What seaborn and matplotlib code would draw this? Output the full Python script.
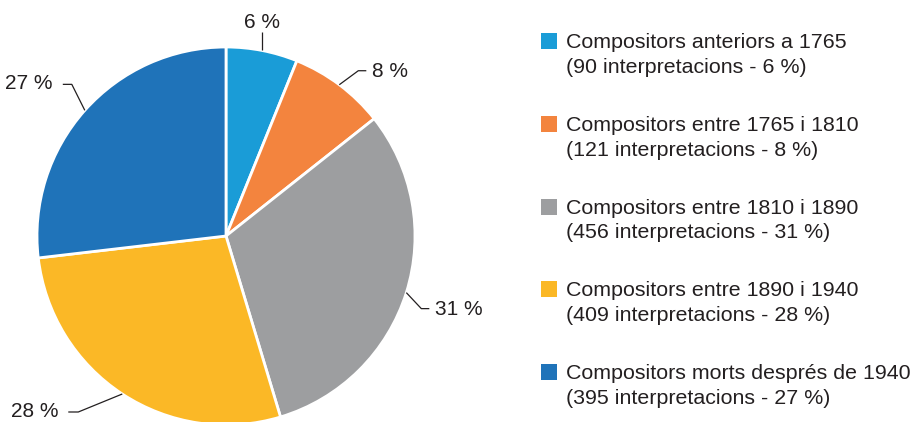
import numpy as np
import matplotlib
matplotlib.use("Agg")
import matplotlib.pyplot as plt
import seaborn as sns
from matplotlib.patches import Rectangle

categories = [
    "Compositors anteriors a 1765",
    "Compositors entre 1765 i 1810",
    "Compositors entre 1810 i 1890",
    "Compositors entre 1890 i 1940",
    "Compositors morts després de 1940",
]
interpretacions = [90, 121, 456, 409, 395]
percents = [6, 8, 31, 28, 27]
colors = ["#1a9cd7", "#f3843e", "#9d9ea0", "#fbb826", "#1f73b9"]

sns.set_theme(style="white")
plt.rcParams['font.family'] = ['Liberation Sans', 'DejaVu Sans']
TXT = "#231f20"
FS_LEG = 15.4
FS_PCT = 15

W, H = 918, 422
fig = plt.figure(figsize=(W / 100, H / 100), dpi=100)
ax = fig.add_axes([0, 0, 1, 1])

cx, cy, R = 226, H - 236, 189
wedges, _ = ax.pie(interpretacions, colors=colors, startangle=90, counterclock=False,
                   center=(cx, cy), radius=R,
                   wedgeprops=dict(edgecolor="white", linewidth=2), frame=False)
ax.set_xlim(0, W)
ax.set_ylim(0, H)
ax.set_aspect("equal")
ax.axis("off")

# leader-line styling per label: (elbow dx, elbow dy, horizontal length, text mode)
leaders = [
    (0, 18, 0, "top"),
    (19, 14, 8, "right"),
    (15, -16, 8, "right"),
    (-44, -18, -10, "left"),
    (-13, 26, -9, "left"),
]
for w, pct, (ex, ey, hl, mode) in zip(wedges, percents, leaders):
    th = np.deg2rad((w.theta1 + w.theta2) / 2)
    x0, y0 = cx + R * np.cos(th), cy + R * np.sin(th)
    x1, y1 = x0 + ex, y0 + ey
    x2, y2 = x1 + hl, y1
    ax.plot([x0, x1, x2], [y0, y1, y2], color=TXT, lw=0.9, solid_capstyle="butt")
    label = f"{pct} %"
    if mode == "top":
        ax.text(x2, y2 + 4, label, ha="center", va="baseline", fontsize=FS_PCT, color=TXT)
    elif mode == "right":
        ax.text(x2 + 6, y2 - 6, label, ha="left", va="baseline", fontsize=FS_PCT, color=TXT)
    else:
        ax.text(x2 - 10, y2 - 5, label, ha="right", va="baseline", fontsize=FS_PCT, color=TXT)

# legend
lx, ltop, step = 541, 33, 82.75
for i, (cat, n, pct, c) in enumerate(zip(categories, interpretacions, percents, colors)):
    top = ltop + i * step
    ax.add_patch(Rectangle((lx, H - top - 16), 16, 16, facecolor=c, edgecolor="none"))
    ax.text(566, H - (top + 15), cat, ha="left", va="baseline", fontsize=FS_LEG, color=TXT)
    ax.text(566, H - (top + 40), f"({n} interpretacions - {pct} %)", ha="left",
            va="baseline", fontsize=FS_LEG, color=TXT)

fig.savefig("out.png", dpi=100)
